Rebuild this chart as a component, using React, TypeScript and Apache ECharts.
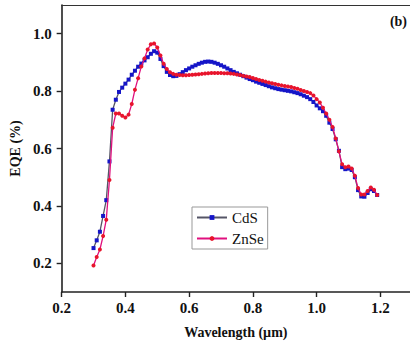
import React, { useEffect, useRef } from "react";
import * as echarts from "echarts";

// Wavelength grid (µm)
const wavelength: number[] = [
  0.30, 0.31, 0.32, 0.33, 0.34, 0.35, 0.36, 0.37, 0.38, 0.39,
  0.40, 0.41, 0.42, 0.43, 0.44, 0.45, 0.46, 0.47, 0.48, 0.49,
  0.50, 0.51, 0.52, 0.53, 0.54, 0.55, 0.56, 0.57, 0.58, 0.59,
  0.60, 0.61, 0.62, 0.63, 0.64, 0.65, 0.66, 0.67, 0.68, 0.69,
  0.70, 0.71, 0.72, 0.73, 0.74, 0.75, 0.76, 0.77, 0.78, 0.79,
  0.80, 0.81, 0.82, 0.83, 0.84, 0.85, 0.86, 0.87, 0.88, 0.89,
  0.90, 0.91, 0.92, 0.93, 0.94, 0.95, 0.96, 0.97, 0.98, 0.99,
  1.00, 1.01, 1.02, 1.03, 1.04, 1.05, 1.06, 1.07, 1.08, 1.09,
  1.10, 1.11, 1.12, 1.13, 1.14, 1.15, 1.16, 1.17, 1.18, 1.19,
];

// EQE with a CdS buffer layer
const eqeCdS: number[] = [
  0.253, 0.280, 0.310, 0.365, 0.420, 0.555, 0.735, 0.770, 0.797, 0.812,
  0.826, 0.840, 0.857, 0.871, 0.885, 0.896, 0.907, 0.918, 0.930, 0.939,
  0.934, 0.912, 0.887, 0.867, 0.856, 0.852, 0.853, 0.859, 0.866, 0.873,
  0.879, 0.885, 0.890, 0.895, 0.899, 0.902, 0.903, 0.902, 0.899, 0.895,
  0.890, 0.885, 0.879, 0.873, 0.867, 0.862, 0.857, 0.852, 0.847, 0.842,
  0.838, 0.833, 0.829, 0.825, 0.821, 0.817, 0.813, 0.810, 0.807, 0.805,
  0.803, 0.801, 0.799, 0.796, 0.793, 0.789, 0.784, 0.779, 0.772, 0.762,
  0.750, 0.740, 0.730, 0.714, 0.690, 0.668, 0.632, 0.592, 0.535, 0.528,
  0.530, 0.525, 0.500, 0.455, 0.433, 0.432, 0.445, 0.458, 0.452, 0.438,
];

// EQE with a ZnSe buffer layer
const eqeZnSe: number[] = [
  0.192, 0.222, 0.248, 0.295, 0.352, 0.490, 0.672, 0.722, 0.722, 0.714,
  0.708, 0.718, 0.755, 0.805, 0.845, 0.886, 0.914, 0.945, 0.963, 0.966,
  0.952, 0.924, 0.895, 0.877, 0.866, 0.860, 0.857, 0.856, 0.855, 0.855,
  0.856, 0.857, 0.858, 0.859, 0.860, 0.861, 0.862, 0.863, 0.863, 0.863,
  0.863, 0.862, 0.862, 0.861, 0.860, 0.858, 0.856, 0.853, 0.851, 0.849,
  0.846, 0.842, 0.839, 0.836, 0.833, 0.830, 0.827, 0.825, 0.822, 0.820,
  0.818, 0.816, 0.814, 0.811, 0.808, 0.804, 0.800, 0.797, 0.793, 0.785,
  0.772, 0.760, 0.742, 0.722, 0.700, 0.675, 0.635, 0.590, 0.545, 0.535,
  0.537, 0.530, 0.505, 0.462, 0.440, 0.440, 0.452, 0.464, 0.456, 0.438,
];

const xTicks: number[] = [0.2, 0.4, 0.6, 0.8, 1.0, 1.2];
const yTicks: number[] = [0.2, 0.4, 0.6, 0.8, 1.0];
const X_MIN = 0.2;
const X_MAX = 1.293;

const seriesNames = ["CdS", "ZnSe"];

const FONT = "Liberation Serif";

const pair = (ys: number[]) => wavelength.map((x, i) => [x, ys[i]]);

export default function App() {
  const ref = useRef<HTMLDivElement>(null);

  useEffect(() => {
    if (!ref.current) return;
    const chart = echarts.init(ref.current, undefined, { renderer: "svg" });
    const axisText = {
      fontFamily: FONT,
      fontWeight: "bold" as const,
      fontSize: 15,
      color: "#111",
    };
    chart.setOption({
      animation: false,
      backgroundColor: "#fff",
      grid: {
        left: 58,
        top: 5,
        right: 0,
        bottom: 55,
      },
      legend: {
        orient: "vertical",
        left: 192,
        top: 207,
        data: seriesNames,
        borderColor: "#999",
        borderWidth: 1,
        padding: [3, 4, 3, 4],
        itemGap: 6,
        itemWidth: 30,
        itemHeight: 6,
        textStyle: { fontFamily: FONT, fontSize: 15, color: "#111" },
      },
      graphic: [
        {
          type: "text",
          right: 3,
          top: 14,
          style: {
            text: "(b)",
            font: `bold 14px ${FONT}`,
            fill: "#111",
          },
        },
      ],
      xAxis: [
        {
          type: "value",
          min: X_MIN,
          max: X_MAX,
          name: "Wavelength (µm)",
          nameLocation: "middle",
          nameGap: 33,
          nameTextStyle: { ...axisText, fontSize: 14 },
          axisLine: { lineStyle: { color: "#222", width: 1.6 } },
          axisTick: {
            inside: false,
            length: 5,
            customValues: xTicks,
            lineStyle: { color: "#222", width: 1.4 },
          },
          axisLabel: {
            ...axisText,
            margin: 8,
            customValues: xTicks,
            formatter: (v: number) => v.toFixed(1),
          },
          splitLine: { show: false },
        },
        {
          // top frame line
          type: "value",
          position: "top",
          min: X_MIN,
          max: X_MAX,
          axisLine: { show: true, lineStyle: { color: "#333", width: 1.2 } },
          axisTick: { show: false },
          axisLabel: { show: false },
          splitLine: { show: false },
        },
      ],
      yAxis: {
        type: "value",
        min: 0.1,
        max: 1.1,
        name: "EQE (%)",
        nameLocation: "middle",
        nameGap: 34,
        nameTextStyle: { ...axisText, fontSize: 14 },
        axisLine: { lineStyle: { color: "#222", width: 1.6 } },
        axisTick: {
          inside: false,
          length: 5,
          customValues: yTicks,
          lineStyle: { color: "#222", width: 1.4 },
        },
        axisLabel: {
          ...axisText,
          margin: 10,
          customValues: yTicks,
          formatter: (v: number) => v.toFixed(1),
        },
        splitLine: { show: false },
      },
      series: [
        {
          name: seriesNames[0],
          type: "line",
          data: pair(eqeCdS),
          symbol: "rect",
          symbolSize: 4,
          showAllSymbol: true,
          itemStyle: { color: "#1515c8" },
          lineStyle: { color: "#555566", width: 1.3 },
          z: 2,
        },
        {
          name: seriesNames[1],
          type: "line",
          data: pair(eqeZnSe),
          symbol: "circle",
          symbolSize: 4,
          showAllSymbol: true,
          itemStyle: { color: "#e8142c" },
          lineStyle: { color: "#e0107e", width: 1.3 },
          z: 3,
        },
      ],
    });
    return () => chart.dispose();
  }, []);

  return (
    <div
      ref={ref}
      style={{ position: "fixed", left: 0, top: 0, width: 410, height: 347 }}
    />
  );
}
